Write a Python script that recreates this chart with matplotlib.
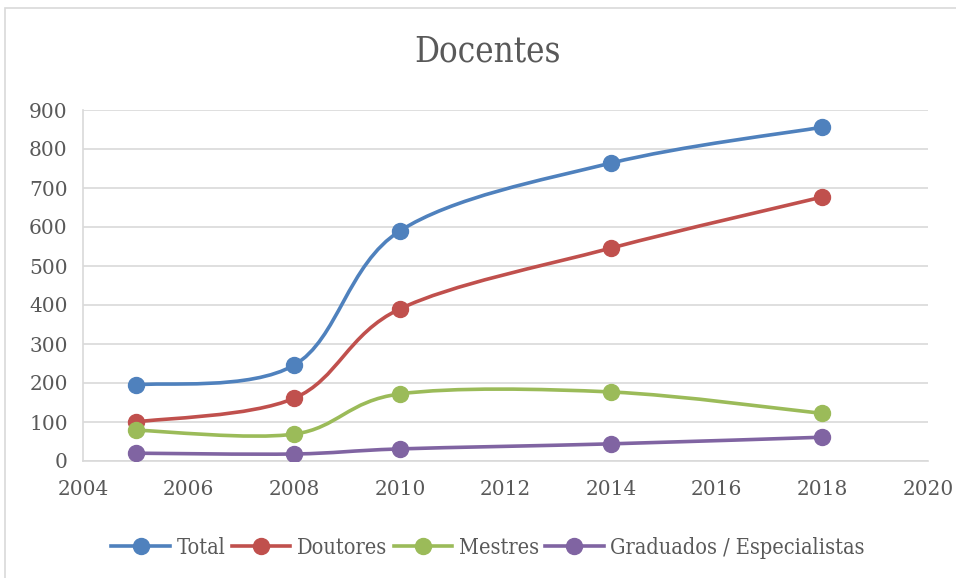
import matplotlib
matplotlib.use("Agg")
import matplotlib.pyplot as plt
from matplotlib.path import Path
from matplotlib.patches import PathPatch, Rectangle
from matplotlib.lines import Line2D
import numpy as np

years = [2005, 2008, 2010, 2014, 2018]
total = [195, 246, 590, 764, 856]
doutores = [100, 161, 390, 546, 677]
mestres = [79, 69, 172, 177, 122]
graduados = [20, 18, 31, 44, 61]

series_names = ["Total", "Doutores", "Mestres", "Graduados / Especialistas"]
series_values = [total, doutores, mestres, graduados]
colors = ["#4F81BD", "#C0504D", "#9BBB59", "#8064A2"]

x_ticks = list(range(2004, 2021, 2))
y_ticks = list(range(0, 901, 100))

title = "Docentes"
caption = "Figura 6 – Evolução do número de docentes e cursos"

tick_font = ["DejaVu Serif", "Liberation Serif"]
narrow_font = ["DejaVu Serif Condensed", "DejaVu Sans Condensed", "Liberation Sans Narrow",
               "DejaVu Serif"]


def smooth_path(xs, ys):
    pts = np.column_stack([xs, ys]).astype(float)
    n = len(pts)
    verts = [tuple(pts[0])]
    codes = [Path.MOVETO]
    for i in range(n - 1):
        p0 = pts[i - 1] if i > 0 else pts[i]
        p1 = pts[i]
        p2 = pts[i + 1]
        p3 = pts[i + 2] if i + 2 < n else pts[i + 1]
        c1 = p1 + (p2 - p0) / 6.0
        c2 = p2 - (p3 - p1) / 6.0
        verts += [tuple(c1), tuple(c2), tuple(p2)]
        codes += [Path.CURVE4] * 3
    return Path(verts, codes)


fig = plt.figure(figsize=(9.56, 5.78), dpi=100)
fig.patches.append(Rectangle((5 / 956, -0.01), 1.0, (578 - 8) / 578 + 0.01,
                             transform=fig.transFigure, fill=False,
                             edgecolor="#d9d9d9", linewidth=1.2))
fig.text(495 / 956, 1.0 + 10 / 578, caption, ha="center", va="center",
         fontsize=14, fontweight="bold", family=["DejaVu Sans"], color="black")

ax = fig.add_axes([83 / 956, (578 - 461) / 578, (928 - 83) / 956, (461 - 110) / 578])
ax.set_xlim(2004, 2020)
ax.set_ylim(0, 900)
ax.set_xticks(x_ticks)
ax.set_yticks(y_ticks)
ax.grid(axis="y", color="#d9d9d9", linewidth=1.2)
ax.set_axisbelow(True)
for s in ["top", "right"]:
    ax.spines[s].set_visible(False)
ax.spines["left"].set_color("#d9d9d9")
ax.spines["bottom"].set_color("#d9d9d9")
ax.spines["left"].set_linewidth(1.2)
ax.spines["bottom"].set_linewidth(1.2)
ax.tick_params(length=0, labelsize=14.5, colors="#595959")
ax.tick_params(axis="y", pad=11)
ax.tick_params(axis="x", pad=14)
for lab in ax.get_xticklabels() + ax.get_yticklabels():
    lab.set_family(tick_font)

handles = []
for name, vals, c in zip(series_names, series_values, colors):
    patch = PathPatch(smooth_path(years, vals), facecolor="none", edgecolor=c,
                      linewidth=2.6, capstyle="round", zorder=3)
    ax.add_patch(patch)
    ax.plot(years, vals, linestyle="none", marker="o", markersize=11.5,
            color=c, zorder=4)
    handles.append(Line2D([0], [0], color=c, linewidth=2.6, marker="o",
                          markersize=11.5, label=name))

fig.text(488 / 956, (578 - 52) / 578, title, ha="center", va="center",
         fontsize=25, color="#595959", family=narrow_font, stretch="condensed")

leg = fig.legend(handles=handles, loc="center", bbox_to_anchor=(488 / 956, (578 - 548) / 578),
                 ncol=4, frameon=False, handlelength=2.7, handletextpad=0.3,
                 columnspacing=0.3, prop={"family": narrow_font, "size": 15.6,
                                          "stretch": "condensed"})
for t in leg.get_texts():
    t.set_color("#595959")

fig.savefig("out.png", dpi=100)
